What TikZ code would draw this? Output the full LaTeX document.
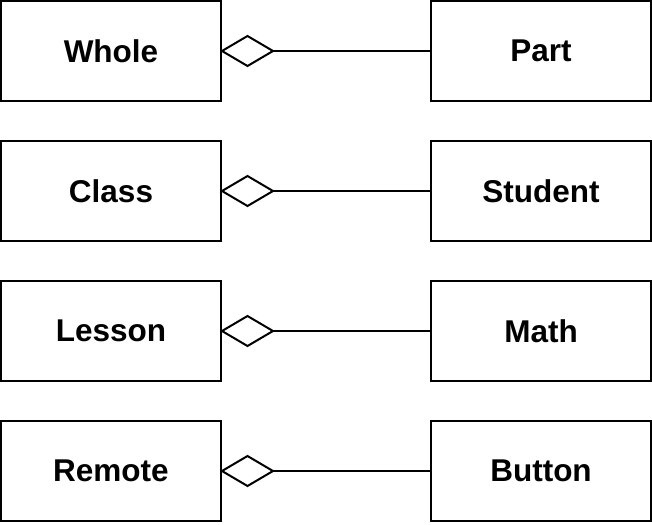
\documentclass[tikz,border=0pt]{standalone}
\usepackage{fontspec}
\setmainfont{Liberation Sans}
\begin{document}
\begin{tikzpicture}[x=1pt,y=-1pt,
  box/.style={draw=black,line width=2pt,minimum width=220pt,minimum height=100pt,inner sep=0pt,font=\fontsize{31.5}{36}\selectfont\bfseries},
  agg/.style={line width=2pt}]
\useasboundingbox (0,0) rectangle (652,524);
\foreach \i/\a/\b in {0/Whole/Part,1/Class/Student,2/Lesson/Math,3/Remote/Button}{
  \node[box] (L\i) at (111,51+140*\i) {\a};
  \node[box] (R\i) at (541,51+140*\i) {\b};
  \draw[agg] (L\i.east) -- ++(25.5,-15) -- ++(25.5,15) -- ++(-25.5,15) -- cycle;
  \draw[agg] ([xshift=51pt]L\i.east) coordinate (d\i) -- (R\i.west);
}
\end{tikzpicture}
\end{document}
